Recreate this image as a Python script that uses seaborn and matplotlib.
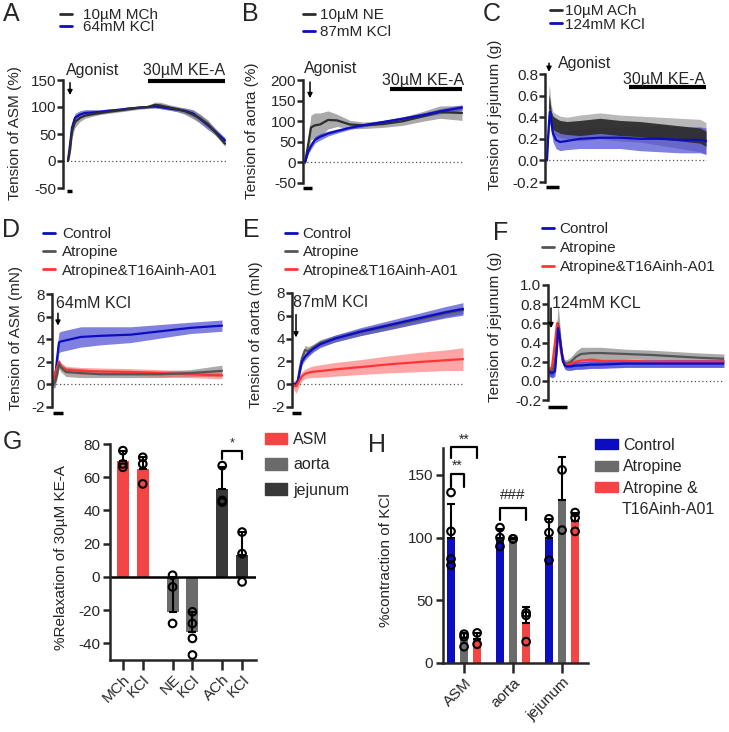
import matplotlib
matplotlib.use("Agg")
import matplotlib.pyplot as plt
from matplotlib.lines import Line2D
from matplotlib.patches import Patch
from matplotlib.collections import PathCollection
import seaborn as sns
import pandas as pd

sns.set_style("ticks")
plt.rcParams["font.family"] = ["Liberation Sans", "DejaVu Sans"]
plt.rcParams["axes.unicode_minus"] = False
plt.rcParams["font.size"] = 11

# %% data -------------------------------------------------------------
# A: ASM tension (%)
a_t = [0, 0.4, 0.8, 1.4, 2.4, 3.4, 5, 6.4, 8, 10.4, 12, 14.4, 16, 17.4, 18.4, 20.4, 22, 23.4, 25, 26.4, 28, 29.4, 31.4]
a_mch = [0, 20, 55, 72, 80, 84, 87, 89, 91, 94, 96, 99, 100, 104, 103, 99, 96, 92, 86, 79, 68, 54, 32]
a_mch_sd = [0, 10, 12, 10, 7, 5, 4, 3, 3, 3, 3, 3, 3, 5, 6, 5, 5, 6, 8, 8, 8, 6, 5]
a_kcl = [0, 30, 62, 80, 86, 89, 90, 91, 93, 95, 97, 99, 100, 101, 100, 97, 95, 93, 88, 78, 66, 55, 38]
a_kcl_sd = [0, 10, 10, 8, 7, 6, 5, 4, 3, 3, 3, 2, 2, 3, 3, 3, 4, 5, 7, 8, 8, 6, 5]

# B: aorta tension (%)
b_t = [0, 0.6, 1.2, 2, 3, 4.6, 6.4, 9, 11.6, 15.6, 19.6, 23.6, 27, 31.4]
b_ne = [0, 40, 85, 90, 92, 103, 102, 92, 90, 93, 100, 112, 122, 120]
b_ne_sd = [5, 20, 30, 30, 28, 22, 15, 10, 8, 8, 10, 12, 15, 18]
b_kcl = [0, 25, 40, 55, 62, 70, 76, 84, 90, 98, 106, 115, 124, 133]
b_kcl_sd = [2, 5, 8, 8, 8, 6, 5, 4, 4, 4, 5, 5, 6, 7]

# C: jejunum tension (g)
c_t = [0, 0.2, 0.4, 0.6, 0.8, 1.2, 1.8, 2.6, 4, 6.6, 10.6, 14.6, 18.6, 22.6, 26.6, 30.6, 31.8]
c_ach = [0.05, 0.3, 0.55, 0.5, 0.4, 0.35, 0.33, 0.31, 0.3, 0.3, 0.32, 0.3, 0.29, 0.27, 0.25, 0.23, 0.2]
c_ach_sd = [0.05, 0.1, 0.15, 0.15, 0.12, 0.1, 0.1, 0.1, 0.1, 0.12, 0.12, 0.12, 0.12, 0.13, 0.14, 0.15, 0.15]
c_ach_osc = [0.02, 0.05, 0.06, 0.06, 0.06, 0.06, 0.06, 0.06, 0.06, 0.07, 0.07, 0.07, 0.07, 0.07, 0.07, 0.07, 0.07]
c_kcl = [0.0, 0.2, 0.35, 0.45, 0.38, 0.25, 0.19, 0.17, 0.18, 0.2, 0.21, 0.21, 0.2, 0.2, 0.19, 0.19, 0.18]
c_kcl_sd = [0.05, 0.08, 0.1, 0.1, 0.1, 0.08, 0.08, 0.08, 0.08, 0.09, 0.1, 0.1, 0.11, 0.12, 0.12, 0.12, 0.12]

# D: ASM tension (mN)
d_t = [0, 0.4, 0.8, 1.2, 1.6, 2.6, 5.6, 9.6, 15.6, 21.6, 27.6, 34]
d_ctrl = [0, 0.5, 2.2, 3.7, 3.8, 3.9, 4.2, 4.3, 4.4, 4.7, 5.0, 5.2]
d_ctrl_sd = [0.3, 0.8, 1.0, 0.9, 0.9, 0.9, 0.9, 0.8, 0.7, 0.6, 0.5, 0.5]
d_atr = [0, 0.2, 0.8, 1.8, 1.5, 1.1, 1.0, 0.9, 0.9, 0.9, 1.0, 1.2]
d_atr_sd = [0.2, 0.3, 0.4, 0.4, 0.4, 0.4, 0.4, 0.3, 0.3, 0.3, 0.3, 0.5]
d_t16 = [0, 1.0, 1.5, 2.0, 1.6, 1.3, 1.2, 1.15, 1.1, 1.0, 0.9, 0.8]
d_t16_sd = [0.4, 0.5, 0.3, 0.2, 0.3, 0.3, 0.3, 0.3, 0.3, 0.3, 0.3, 0.3]

# E: aorta tension (mN)
e_t = [0, 0.8, 1.2, 1.6, 2, 2.6, 3.2, 4.2, 5.6, 8.6, 13.6, 19.6, 25.6, 30.6, 34.2]
e_ctrl = [0, 0, 0.3, 1.2, 2.0, 2.4, 2.7, 3.1, 3.5, 4.0, 4.6, 5.2, 5.8, 6.3, 6.6]
e_ctrl_sd = [0.2, 0.2, 0.3, 0.3, 0.3, 0.3, 0.3, 0.3, 0.3, 0.3, 0.35, 0.4, 0.45, 0.5, 0.55]
e_atr = [0, 0, 0.4, 1.5, 2.3, 3.0, 2.9, 3.2, 3.6, 4.0, 4.55, 5.1, 5.7, 6.2, 6.5]
e_atr_sd = [0.2, 0.2, 0.3, 0.3, 0.3, 0.4, 0.4, 0.3, 0.3, 0.3, 0.3, 0.3, 0.3, 0.3, 0.3]
e_t16 = [0, -0.2, 0.1, 0.4, 0.7, 0.9, 1.0, 1.1, 1.15, 1.3, 1.5, 1.75, 1.95, 2.1, 2.2]
e_t16_sd = [0.2, 0.6, 0.5, 0.4, 0.4, 0.4, 0.45, 0.5, 0.55, 0.6, 0.65, 0.75, 0.85, 0.9, 1.0]

# F: jejunum tension (g)
f_t = [0, 0.6, 1.2, 1.6, 1.8, 2.0, 2.4, 2.8, 3.2, 3.6, 4.4, 5.4, 6.4, 8.4, 10.4, 15.4, 20.4, 30.4, 35]
f_ctrl = [0.1, 0.08, 0.1, 0.35, 0.55, 0.5, 0.35, 0.2, 0.16, 0.15, 0.15, 0.16, 0.16, 0.17, 0.17, 0.18, 0.18, 0.18, 0.18]
f_ctrl_sd = [0.05, 0.05, 0.05, 0.05, 0.05, 0.05, 0.05, 0.04, 0.04, 0.04, 0.04, 0.04, 0.04, 0.04, 0.04, 0.04, 0.04, 0.04, 0.04]
f_atr = [0.08, 0.1, 0.2, 0.45, 0.6, 0.55, 0.35, 0.22, 0.18, 0.18, 0.2, 0.25, 0.28, 0.29, 0.29, 0.28, 0.27, 0.24, 0.23]
f_atr_sd = [0.03, 0.05, 0.1, 0.15, 0.2, 0.15, 0.1, 0.05, 0.04, 0.04, 0.05, 0.06, 0.07, 0.06, 0.06, 0.05, 0.05, 0.05, 0.05]
f_t16 = [0.1, 0.15, 0.4, 0.6, 0.55, 0.45, 0.3, 0.2, 0.17, 0.17, 0.18, 0.2, 0.21, 0.22, 0.21, 0.21, 0.2, 0.2, 0.2]
f_t16_sd = [0.03, 0.03, 0.05, 0.05, 0.05, 0.05, 0.04, 0.03, 0.02, 0.02, 0.02, 0.02, 0.02, 0.02, 0.02, 0.02, 0.02, 0.02, 0.02]

# G: relaxation by KE-A
tissues = ["ASM", "aorta", "jejunum"]
g_stims = ["agonist", "KCl"]
g_labels = ["MCh", "KCl", "NE", "KCl", "ACh", "KCl"]
g_mean = [70, 65, -21, -33, 53, 13]
g_sd = [6, 7, 21, 12, 13, 14]
g_points = [[76, 68, 66], [72, 68, 56], [1, -6, -28], [-21, -28, -37, -47], [67, 46, 45], [27, 14, -3]]

# H: % contraction of KCl
treatments = ["Control", "Atropine", "Atropine &"]
treatment_note = "T16Ainh-A01"
h_mean = [100, 20, 19, 100, 99, 32, 100, 130, 113]
h_sd = [27, 4, 5, 7, 1, 13, 15, 34, 7]
h_points = [[136, 105, 83, 78], [23, 21, 13], [24, 15],
            [108, 100, 93], [99, 99], [40, 38, 17],
            [115, 104, 82], [154, 106], [120, 116, 105]]

# %% style ------------------------------------------------------------
BLUE = "#0c0cc0"
BLUE_BAND = "#3c3cd2"
GRAY = "#555555"
GRAY_BAND = "#7d7d7d"
DARK = "#2e2e2e"
RED = "#ff3535"
RED_BAND = "#ff5c5c"
BAR_RED = "#f44545"
BAR_GRAY = "#6b6b6b"
BAR_DARK = "#383838"

W, H = 729, 732
fig = plt.figure(figsize=(W / 100, H / 100), dpi=100)


def px_axes(x0, y0, x1, y1):
    return fig.add_axes([x0 / W, 1 - y1 / H, (x1 - x0) / W, (y1 - y0) / H])


def px_text(x, y, s, **kw):
    fig.text(x / W, 1 - y / H, s, **kw)


def trace_band(ax, t, mean, sd, color, alpha=0.65):
    lo = [m - s for m, s in zip(mean, sd)]
    hi = [m + s for m, s in zip(mean, sd)]
    ax.fill_between(t, lo, hi, color=color, alpha=alpha, lw=0)


def trace_line(ax, t, mean, color, lw=1.6):
    sns.lineplot(x=t, y=mean, color=color, lw=lw, ax=ax)


def ts_axes(box, xlim, ylim, yticks, ylabels):
    ax = px_axes(*box)
    ax.set_xlim(*xlim)
    ax.set_ylim(*ylim)
    ax.set_yticks(yticks)
    ax.set_yticklabels(ylabels)
    ax.set_xticks([])
    for s in ["top", "right", "bottom"]:
        ax.spines[s].set_visible(False)
    ax.spines["left"].set_linewidth(1.8)
    ax.tick_params(axis="y", length=4, width=1.8, pad=1, labelsize=11)
    ax.axhline(0, color="#555555", lw=0.9, ls=(0, (1, 2)))
    return ax


def ts_legend(ax, colors, labels, x, y, spacing, pad):
    handles = [Line2D([], [], color=c, lw=2) for c in colors]
    ax.legend(handles, labels, loc="upper left", bbox_to_anchor=(x / W, 1 - y / H),
              bbox_transform=fig.transFigure, frameon=False, fontsize=11,
              handlelength=0.8, handletextpad=pad, labelspacing=spacing,
              borderpad=0, borderaxespad=0)


def mark(ax, x0, x1, y, lw=2):
    ax.plot([x0, x1], [y, y], color="k", lw=lw, clip_on=False, solid_capstyle="butt")


def arrow(ax, x, y0, y1):
    ax.annotate("", xy=(x, y1), xytext=(x, y0),
                arrowprops=dict(arrowstyle="-|>", color="k", lw=1.1, mutation_scale=7,
                                shrinkA=0, shrinkB=0), annotation_clip=False)


# %% A ----------------------------------------------------------------
ax = ts_axes((63, 80, 226, 188), (-1, 31.6), (-50, 150), [-50, 0, 50, 100, 150],
             ["-50", "0", "50", "100", "150"])
trace_band(ax, a_t, a_kcl, a_kcl_sd, BLUE_BAND)
trace_band(ax, a_t, a_mch, a_mch_sd, GRAY_BAND)
trace_line(ax, a_t, a_kcl, BLUE)
trace_line(ax, a_t, a_mch, DARK)
mark(ax, 16, 31.4, 148, lw=3)
ax.text(15, 167, "30µM KE-A", fontsize=11.5, va="center")
ax.text(-0.4, 167, "Agonist", fontsize=11.5, va="center")
arrow(ax, 0.4, 145, 122)
mark(ax, -0.2, 0.8, -56, lw=2.5)
ts_legend(ax, [DARK, BLUE], ["10µM MCh", "64mM KCl"], 60, 8, -0.1, 0.7)
px_text(15, 133, "Tension of ASM (%)", rotation=90, ha="center", va="center", fontsize=11)

# %% B ----------------------------------------------------------------
ax = ts_axes((303, 80, 463, 183), (-0.4, 31.6), (-50, 200), [-50, 0, 50, 100, 150, 200],
             ["-50", "0", "50", "100", "150", "200"])
trace_band(ax, b_t, b_ne, b_ne_sd, GRAY_BAND)
trace_band(ax, b_t, b_kcl, b_kcl_sd, BLUE_BAND)
trace_line(ax, b_t, b_ne, DARK)
trace_line(ax, b_t, b_kcl, BLUE)
mark(ax, 17, 31.4, 178, lw=3)
ax.text(15.4, 200, "30µM KE-A", fontsize=11.5, va="center")
ax.text(-0.2, 229, "Agonist", fontsize=11.5, va="center")
arrow(ax, 1, 195, 156)
mark(ax, -0.4, 1.4, -63, lw=2.5)
ts_legend(ax, [DARK, BLUE], ["10µM NE", "87mM KCl"], 303, 8, 0.2, 0.3)
px_text(252, 131, "Tension of aorta (%)", rotation=90, ha="center", va="center", fontsize=11)

# %% C ----------------------------------------------------------------
ax = ts_axes((545, 74, 707, 182), (-0.4, 32.0), (-0.2, 0.8), [-0.2, 0, 0.2, 0.4, 0.6, 0.8],
             ["-0.2", "0.0", "0.2", "0.4", "0.6", "0.8"])
trace_band(ax, c_t, c_ach, c_ach_sd, "#a8a8a8", alpha=0.8)
trace_band(ax, c_t, c_kcl, c_kcl_sd, BLUE_BAND, alpha=0.65)
trace_line(ax, c_t, c_kcl, BLUE)
trace_band(ax, c_t, c_ach, c_ach_osc, DARK, alpha=0.95)
mark(ax, 16.4, 31.8, 0.68, lw=3)
ax.text(15.2, 0.745, "30µM KE-A", fontsize=11.5, va="center")
ax.text(2.2, 0.9, "Agonist", fontsize=11.5, va="center")
arrow(ax, 0.4, 0.9, 0.82)
mark(ax, -0.2, 2.4, -0.25, lw=2.5)
ts_legend(ax, [DARK, BLUE], ["10µM ACh", "124mM KCl"], 550, 4, -0.03, 0.2)
px_text(495, 115, "Tension of jejunum (g)", rotation=90, ha="center", va="center", fontsize=11)

# %% D ----------------------------------------------------------------
ax = ts_axes((52, 294, 223, 407), (-0.2, 34.2), (-2, 8), [-2, 0, 2, 4, 6, 8],
             ["-2", "0", "2", "4", "6", "8"])
trace_band(ax, d_t, d_ctrl, d_ctrl_sd, BLUE_BAND)
trace_band(ax, d_t, d_atr, d_atr_sd, GRAY_BAND)
trace_band(ax, d_t, d_t16, d_t16_sd, RED_BAND, alpha=0.55)
trace_line(ax, d_t, d_ctrl, BLUE)
trace_line(ax, d_t, d_t16, RED)
trace_line(ax, d_t, d_atr, GRAY)
ax.text(0.6, 7.2, "64mM KCl", fontsize=11.5, va="center")
arrow(ax, 1, 6.3, 5.2)
mark(ax, 0, 2, -2.5, lw=2.5)
ts_legend(ax, [BLUE, GRAY, RED], ["Control", "Atropine", "Atropine&T16Ainh-A01"], 43, 227, 0.28, 0.45)
px_text(16, 338, "Tension of ASM (mN)", rotation=90, ha="center", va="center", fontsize=11)

# %% E ----------------------------------------------------------------
ax = ts_axes((292, 293, 464, 407), (0, 34.4), (-2, 8), [-2, 0, 2, 4, 6, 8],
             ["-2", "0", "2", "4", "6", "8"])
trace_band(ax, e_t, e_atr, e_atr_sd, GRAY_BAND)
trace_band(ax, e_t, e_ctrl, e_ctrl_sd, BLUE_BAND)
trace_band(ax, e_t, e_t16, e_t16_sd, RED_BAND, alpha=0.55)
trace_line(ax, e_t, e_atr, GRAY)
trace_line(ax, e_t, e_ctrl, BLUE)
trace_line(ax, e_t, e_t16, RED)
ax.text(0.2, 7.2, "87mM KCl", fontsize=11.5, va="center")
arrow(ax, 0.8, 6.1, 4.1)
mark(ax, 0, 1.8, -2.5, lw=2.5)
ts_legend(ax, [BLUE, GRAY, RED], ["Control", "Atropine", "Atropine&T16Ainh-A01"], 285, 227, 0.28, 0.35)
px_text(256, 335, "Tension of aorta (mN)", rotation=90, ha="center", va="center", fontsize=11)

# %% F ----------------------------------------------------------------
ax = ts_axes((548, 285, 724, 400), (-0.2, 35.0), (-0.2, 1.0), [-0.2, 0, 0.2, 0.4, 0.6, 0.8, 1.0],
             ["-0.2", "0.0", "0.2", "0.4", "0.6", "0.8", "1.0"])
trace_band(ax, f_t, f_atr, f_atr_sd, GRAY_BAND)
trace_band(ax, f_t, f_t16, f_t16_sd, RED_BAND, alpha=0.6)
trace_band(ax, f_t, f_ctrl, f_ctrl_sd, BLUE_BAND, alpha=0.8)
trace_line(ax, f_t, f_atr, GRAY)
trace_line(ax, f_t, f_t16, RED)
trace_line(ax, f_t, f_ctrl, BLUE)
ax.text(0.6, 0.81, "124mM KCL", fontsize=11.5, va="center")
arrow(ax, 0.4, 0.76, 0.55)
mark(ax, -0.2, 3.6, -0.27, lw=2.5)
ts_legend(ax, [BLUE, GRAY, RED], ["Control", "Atropine", "Atropine&T16Ainh-A01"], 542, 222, 0.33, 0.35)
px_text(495, 327, "Tension of jejunum (g)", rotation=90, ha="center", va="center", fontsize=11)


# %% bar panel helpers -----------------------------------------------------
def bar_axes(ax):
    for s in ["top", "right"]:
        ax.spines[s].set_visible(False)
    ax.spines["left"].set_linewidth(1.8)
    ax.spines["bottom"].set_linewidth(1.8)
    ax.tick_params(axis="y", length=5, width=1.8, pad=2, labelsize=11)
    ax.tick_params(axis="x", length=7, width=1.8, pad=2, labelsize=11)
    ax.set_xlabel("")
    ax.set_ylabel("")


def hollow_points(ax):
    for c in ax.collections:
        if isinstance(c, PathCollection):
            c.set_facecolor("none")
            c.set_edgecolor("k")
            c.set_linewidth(1.5)
            c.set_zorder(4)


def bar_centers(ax):
    return sorted(p.get_x() + p.get_width() / 2 for p in ax.patches)


def bracket(ax, x0, x1, top, leg0, leg1, label, ty, fs):
    ax.plot([x0, x0, x1, x1], [leg0, top, top, leg1], color="k", lw=1.6, clip_on=False)
    ax.text((x0 + x1) / 2, ty, label, ha="center", va="center", fontsize=fs)


# %% G ----------------------------------------------------------------
g_df = pd.DataFrame({"tissue": [t for t in tissues for _ in g_stims],
                     "stim": [s for _ in tissues for s in g_stims],
                     "value": g_mean})
g_pts = pd.DataFrame([(tissues[i // 2], g_stims[i % 2], v)
                      for i, pts in enumerate(g_points) for v in pts],
                     columns=["tissue", "stim", "value"])
ax = px_axes(110, 444, 256, 660)
sns.barplot(data=g_df, x="tissue", y="value", hue="stim", order=tissues, hue_order=g_stims,
            dodge=True, width=0.8, gap=0.4, errorbar=None, legend=False, ax=ax)
g_colors = [BAR_RED, BAR_GRAY, BAR_DARK]
for p in ax.patches:
    p.set_facecolor(g_colors[int(round(p.get_x() + p.get_width() / 2))])
    p.set_edgecolor("none")
cx = bar_centers(ax)
for x, m, s in zip(cx, g_mean, g_sd):
    ax.errorbar(x, m, yerr=[[0], [s]], fmt="none", ecolor="k", elinewidth=1.5,
                capsize=3, capthick=1.5, zorder=3)
sns.stripplot(data=g_pts, x="tissue", y="value", hue="stim", order=tissues, hue_order=g_stims,
              dodge=True, jitter=False, size=5.5, palette=["k", "k"], legend=False, ax=ax)
hollow_points(ax)
ax.axhline(0, color="k", lw=1.8, zorder=2)
ax.set_xlim(-0.46, 2.48)
ax.set_ylim(-50, 80)
ax.set_yticks([-40, -20, 0, 20, 40, 60, 80])
ax.set_yticklabels(["-40", "-20", "0", "20", "40", "60", "80"])
ax.set_xticks(cx)
ax.set_xticklabels(g_labels, rotation=45, ha="right", rotation_mode="anchor")
bar_axes(ax)
bracket(ax, cx[4], cx[5], 76, 71, 71, "*", 80.5, 9)
ax.legend([Patch(color=c) for c in g_colors], tissues, loc="upper left",
          bbox_to_anchor=(265 / W, 1 - 432 / H), bbox_transform=fig.transFigure,
          frameon=False, fontsize=11.5, handlelength=1.4, handleheight=0.75,
          handletextpad=0.35, labelspacing=0.65, borderpad=0, borderaxespad=0)
px_text(61, 558, "%Relaxation of 30µM KE-A", rotation=90, ha="center", va="center", fontsize=11)

# %% H ----------------------------------------------------------------
h_df = pd.DataFrame({"tissue": [t for t in tissues for _ in treatments],
                     "treat": [s for _ in tissues for s in treatments],
                     "value": h_mean})
h_pts = pd.DataFrame([(tissues[i // 3], treatments[i % 3], v)
                      for i, pts in enumerate(h_points) for v in pts],
                     columns=["tissue", "treat", "value"])
h_colors = [BLUE, BAR_GRAY, BAR_RED]
ax = px_axes(443, 448, 588, 663)
sns.barplot(data=h_df, x="tissue", y="value", hue="treat", order=tissues, hue_order=treatments,
            palette=h_colors, saturation=1, dodge=True, width=0.8, gap=0.35, errorbar=None,
            legend=False, ax=ax)
for p in ax.patches:
    p.set_edgecolor("none")
cx = bar_centers(ax)
for x, m, s in zip(cx, h_mean, h_sd):
    ax.errorbar(x, m, yerr=[[0], [s]], fmt="none", ecolor="k", elinewidth=1.5,
                capsize=3, capthick=1.5, zorder=3)
sns.stripplot(data=h_pts, x="tissue", y="value", hue="treat", order=tissues, hue_order=treatments,
              dodge=True, jitter=False, size=5.5, palette=["k", "k", "k"], legend=False, ax=ax)
hollow_points(ax)
ax.set_xlim(-0.43, 2.53)
ax.set_ylim(0, 171.5)
ax.set_yticks([0, 50, 100, 150])
ax.set_xticks(range(len(tissues)))
ax.set_xticklabels(tissues, rotation=45, ha="right", rotation_mode="anchor")
bar_axes(ax)
bracket(ax, cx[0], cx[2], 172.6, 163.6, 163.6, "**", 178, 10)
bracket(ax, cx[0], cx[1], 150.5, 140.6, 140.6, "**", 157, 10)
bracket(ax, cx[3], cx[5], 123.4, 114, 114, "###", 134, 11)
ax.legend([Patch(color=c) for c in h_colors], treatments, loc="upper left",
          bbox_to_anchor=(595 / W, 1 - 438 / H), bbox_transform=fig.transFigure,
          frameon=False, fontsize=11.5, handlelength=1.45, handleheight=0.6,
          handletextpad=0.3, labelspacing=0.4, borderpad=0, borderaxespad=0)
px_text(622, 510, treatment_note, ha="left", va="center", fontsize=11.5)
px_text(386, 560, "%contraction of KCl", rotation=90, ha="center", va="center", fontsize=11)

# %% panel letters -----------------------------------------------------
for letter, x, y in [("A", 3, 14), ("B", 242, 14), ("C", 483, 14), ("D", 2, 230),
                     ("E", 243, 230), ("F", 493, 233), ("G", 3, 442), ("H", 368, 445)]:
    px_text(x, y, letter, fontsize=18, ha="left", va="center")

fig.savefig("out.png", dpi=100)
